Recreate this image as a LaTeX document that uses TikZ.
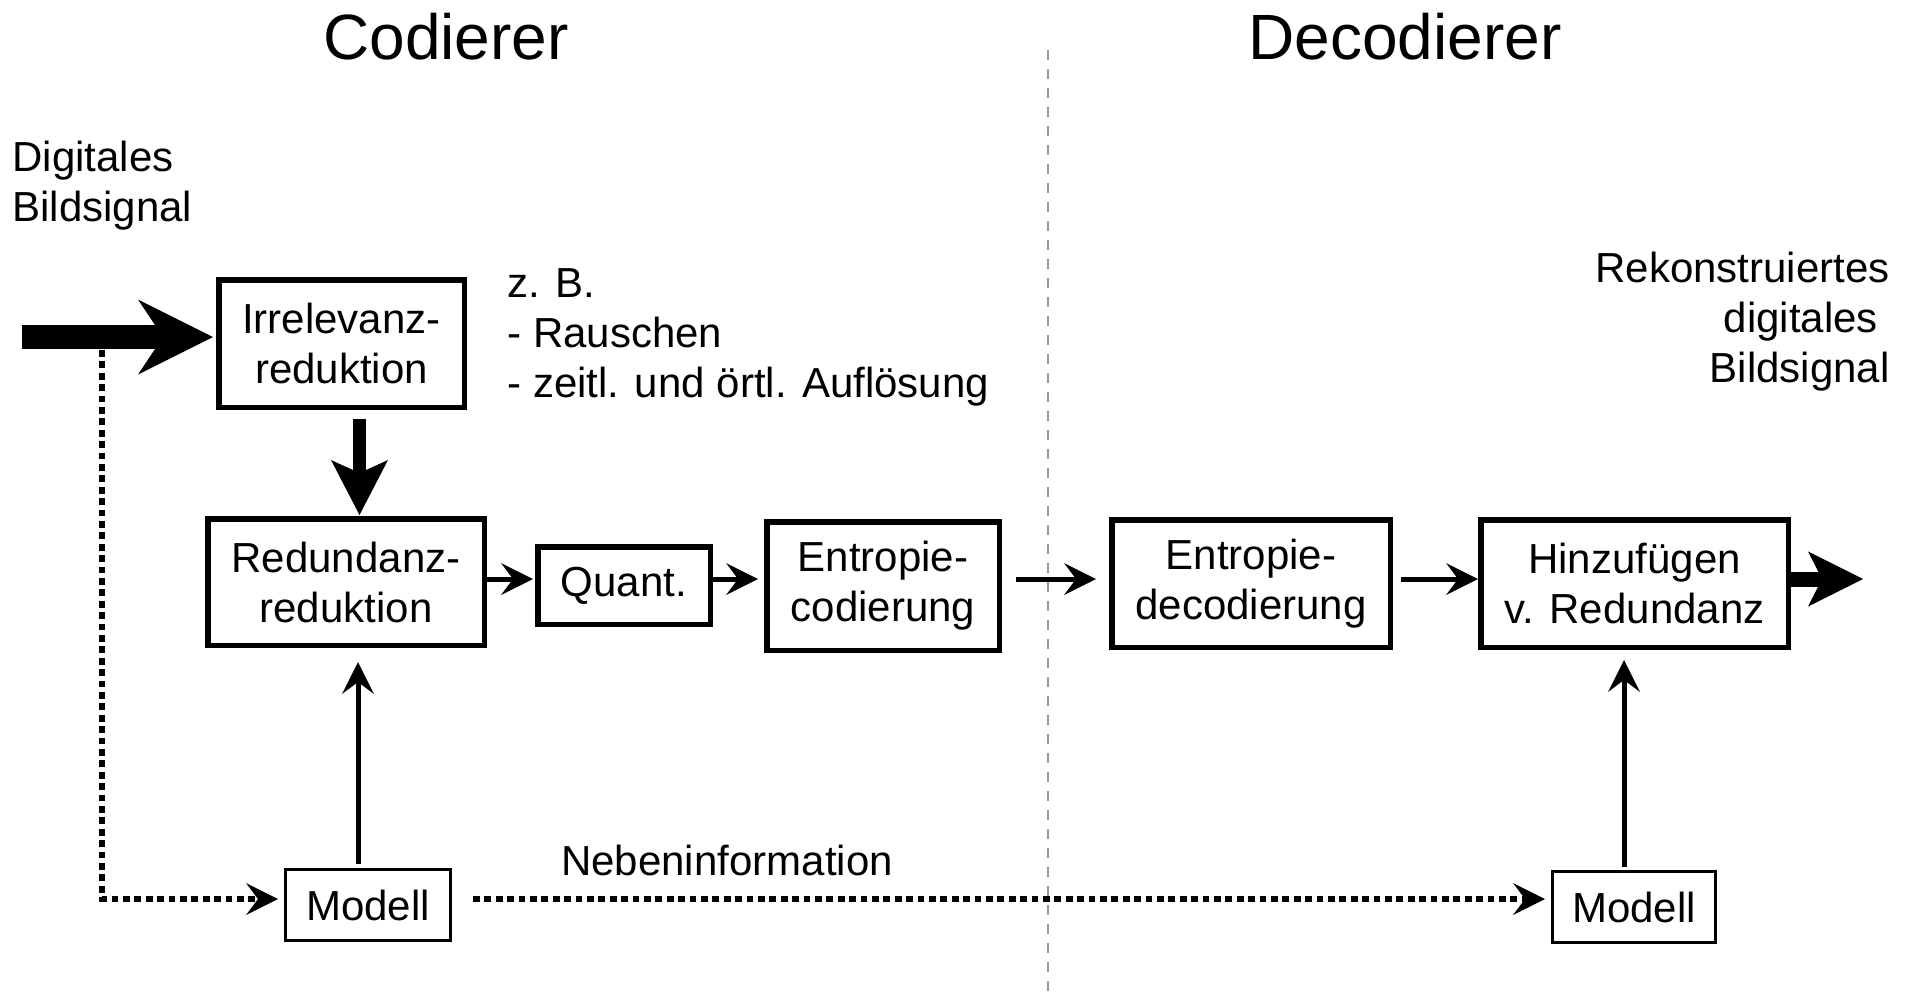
\documentclass[tikz,border=0pt]{standalone}
\usepackage{fontspec}
\setmainfont{Liberation Sans}
\usetikzlibrary{arrows.meta}

\begin{document}
\begin{tikzpicture}[x=0.5pt,y=-0.5pt,
  lbl/.style={inner sep=0pt, font=\fontsize{21pt}{25pt}\selectfont},
  headline/.style={inner sep=0pt, font=\fontsize{32pt}{38pt}\selectfont},
  block/.style={draw, line width=2.75pt, inner sep=0pt, align=center,
    font=\fontsize{21pt}{25pt}\selectfont},
  model/.style={draw, line width=1.3pt, inner sep=0pt, align=center,
    font=\fontsize{21pt}{25pt}\selectfont, minimum height=35.7pt},
  flow/.style={line width=2.5pt,
    -{Stealth[length=16pt,width=16pt,inset=6pt,line width=0pt]}},
  midflow/.style={line width=6.5pt,
    -{Stealth[length=27.5pt,width=28.5pt,inset=6.5pt,line width=0pt]}},
  bigflow/.style={line width=12pt,
    -{Stealth[length=37.5pt,width=37.5pt,inset=12.5pt,line width=0pt]}},
  outflow/.style={line width=7.5pt,
    -{Stealth[length=27.5pt,width=27.5pt,inset=7pt,line width=0pt]}},
  sideinfo/.style={line width=2.75pt, dash pattern=on 3.4pt off 2.3pt,
    -{Stealth[length=16pt,width=16pt,inset=6pt,line width=0pt]}},
  divider/.style={line width=1pt, draw=black!40, dash pattern=on 5pt off 4.5pt}
]
\useasboundingbox (0,0) rectangle (1914,992);

% helper coordinates (pixel grid)
\coordinate (row)  at (0,579);
\coordinate (dy)   at (0,899);
\coordinate (src)  at (22,337);
\coordinate (tap)  at (102,350);
\coordinate (sink) at (1863,579);
\coordinate (colA) at (359.5,0);
\coordinate (colL) at (358,0);
\coordinate (colR) at (1624,0);

% encoder / decoder divider
\draw[divider] (1048,50) -- (1048,992);

% titles
\node[headline, anchor=base] (tenc) at (446,59) {Codierer};
\node[headline, anchor=base] (tdec) at (1405,59) {Decodierer};

% blocks
\node[block, minimum width=122.75pt, minimum height=63.75pt] (irr) at (341.5,343.5) {Irrelevanz-\\reduktion};
\node[block, minimum width=138.25pt, minimum height=63.25pt] (red) at (346,582) {Redundanz-\\reduktion};
\node[block, minimum width=86.25pt, minimum height=38.75pt] (quant) at (624,585.5) {\raisebox{-2.2pt}{Quant.}};
\node[block, minimum width=116.25pt, minimum height=64.25pt] (enc) at (883,586) {Entropie-\\codierung};
\node[block, minimum width=139.25pt, minimum height=63.75pt] (dec) at (1251,583.5) {Entropie-\\decodierung};
\node[block, minimum width=153.75pt, minimum height=63.75pt] (hin) at (1634.5,583.5) {Hinzufügen\\v. Redundanz};
\node[model, minimum width=82.7pt] (modL) at (368,905) {Modell};
\node[model, minimum width=81.7pt] (modR) at (1634,907) {Modell};

% labels (anchored at the baseline of their last line)
\node[lbl, align=left, anchor=base west] (insig) at (12,221) {Digitales\\Bildsignal};
\node[lbl, align=left, anchor=base west] (note) at (507,397) {z. B.\\- Rauschen\\- zeitl. und örtl. Auflösung};
\node[lbl, align=right, anchor=base east] (outsig) at (1890,382) {Rekonstruiertes\\digitales\rule{0.28em}{0pt}\\Bildsignal};
\node[lbl, anchor=base] (neben) at (727,875) {Nebeninformation};

% main signal path
\draw[bigflow, shorten >=1.5pt] (src) -- (irr.west |- src);
\draw[midflow, shorten <=4.5pt, shorten >=0.5pt] (irr.south -| colA) -- (red.north -| colA);
\draw[flow, shorten >=1pt] (red.east |- row) -- (quant.west |- row);
\draw[flow, shorten >=3pt] (quant.east |- row) -- (enc.west |- row);
\draw[flow, shorten <=7pt, shorten >=6.5pt] (enc.east |- row) -- (dec.west |- row);
\draw[flow, shorten <=4pt] (dec.east |- row) -- (hin.west |- row);
\draw[outflow] (hin.east |- row) -- (sink);

% model paths
\draw[flow, shorten <=2pt, shorten >=7pt] (modL.north -| colL) -- (red.south -| colL);
\draw[flow, shorten <=1.5pt, shorten >=5pt] (modR.north -| colR) -- (hin.south -| colR);
\draw[sideinfo, shorten >=3pt] (tap) |- (modL.west |- dy);
\draw[sideinfo, shorten <=10.5pt, shorten >=3pt] (modL.east |- dy) -- (modR.west |- dy);
\end{tikzpicture}
\end{document}
